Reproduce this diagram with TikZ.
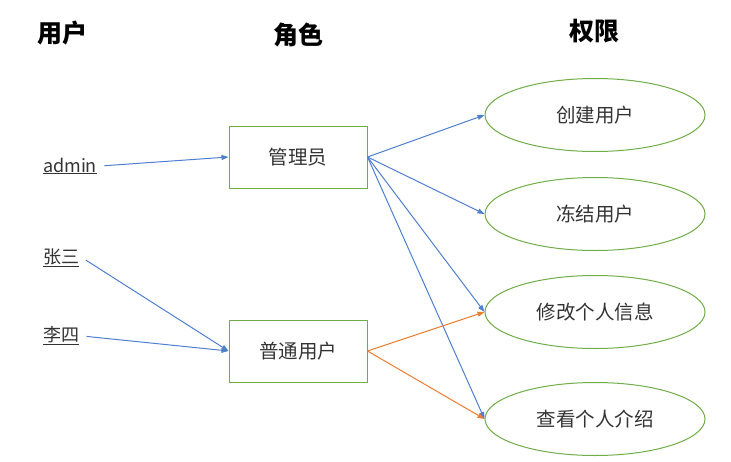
\documentclass[tikz,border=0pt]{standalone}
\usepackage{fontspec}
\usepackage{xcolor}
\usepackage{tikz}
\usetikzlibrary{arrows.meta,shapes.geometric}
\setmainfont{Noto Sans CJK SC}
\definecolor{Blue}{HTML}{4F7FD0}
\definecolor{Orange}{HTML}{ED7D31}
\definecolor{Green}{HTML}{70AD47}
\definecolor{Txt}{HTML}{333333}

\begin{document}
\begin{tikzpicture}[x=1pt,y=-1pt,
h/.style={font=\fontsize{25}{28}\selectfont\bfseries,text=black},
u/.style={font=\fontsize{18}{21}\selectfont,text=Txt},
r/.style={draw=Green,line width=1pt,minimum width=138pt,minimum height=62pt,font=\fontsize{19.5}{22}\selectfont,text=Txt},
p/.style={ellipse,draw=Green,line width=1pt,minimum width=220pt,minimum height=73pt,font=\fontsize{19.5}{22}\selectfont,text=Txt},
a/.style={-{Triangle[length=7pt,width=5pt]},line width=1pt,draw=Blue},
o/.style={a,draw=Orange}]
\useasboundingbox (0,0) rectangle (731,461);
% column heads
\node[h] (hu) at (62,33) {用户};
\node[h] (hr) at (298,35) {角色};
\node[h] (hp) at (594,31) {权限};
% users
\node[u] (ad) at (70,166) {\underline{admin}};
\node[u] (zs) at (61,258) {\underline{张三}};
\node[u] (ls) at (61,336) {\underline{李四}};
% roles
\node[r] (m) at (298,157) {管理员};
\node[r] (n) at (298,351) {普通用户};
% permissions
\node[p] (p1) at (595,115) {创建用户};
\node[p] (p2) at (595,214) {冻结用户};
\node[p] (p3) at (595,312) {修改个人信息};
\node[p] (p4) at (595,419) {查看个人介绍};
\draw[a,shorten <=4pt] (ad.east)--(m.west);
\draw[a,shorten <=4pt] (zs.east)--(n.west);
\draw[a,shorten <=4pt] (ls.east)--(n.west);
\draw[a] (m.east)--(p1.west); \draw[a] (m.east)--(p2.west);
\draw[a] (m.east)--(p3.west); \draw[a] (m.east)--(p4.west);
\draw[o] (n.east)--(p3.west); \draw[o] (n.east)--(p4.west);
\end{tikzpicture}
\end{document}
